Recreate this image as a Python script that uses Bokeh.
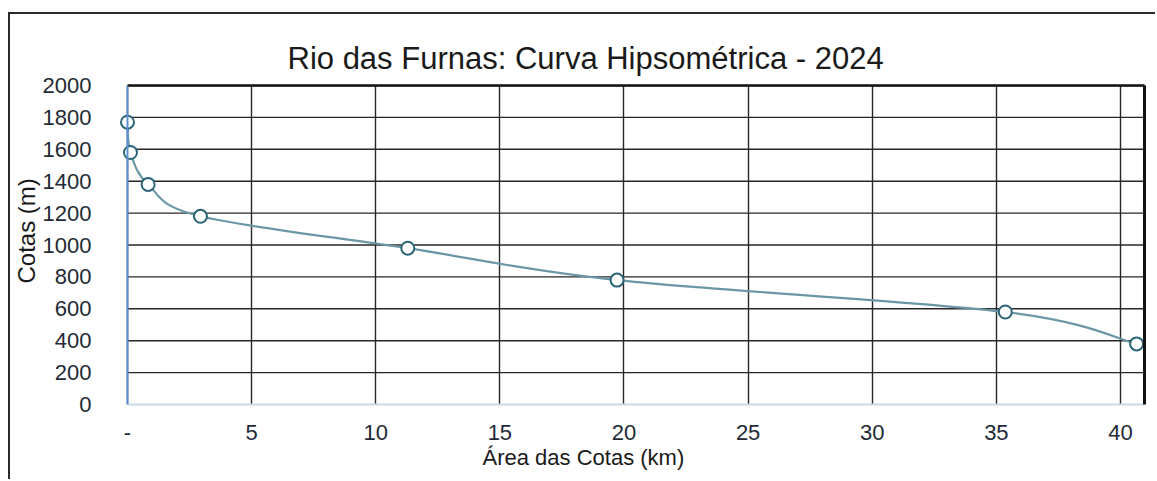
import numpy as np
from bokeh.plotting import figure
from bokeh.models import (ColumnDataSource, Range1d, FixedTicker, LinearAxis,
                          Span, Title)
from bokeh.embed import file_html
from bokeh.resources import INLINE

# ---- data ----
area_km = [0.0, 0.12, 0.83, 2.94, 11.29, 19.72, 35.36, 40.65]
cota_m = [1770, 1580, 1380, 1180, 980, 780, 580, 380]

x_ticks = [0, 5, 10, 15, 20, 25, 30, 35, 40]
x_tick_labels = ["-", "5", "10", "15", "20", "25", "30", "35", "40"]
y_ticks = [0, 200, 400, 600, 800, 1000, 1200, 1400, 1600, 1800, 2000]

title_text = "Rio das Furnas: Curva Hipsométrica - 2024"
x_label = "Área das Cotas (km)"
y_label = "Cotas (m)"

X_MAX = 40.967
FONT = "Liberation Sans"

W, H = 1147, 467
p = figure(width=W, height=H,
           x_range=Range1d(-0.3223, X_MAX), y_range=Range1d(0, 2000),
           output_backend="svg", toolbar_location=None,
           min_border_left=109, min_border_right=13,
           min_border_top=71, min_border_bottom=77,
           background_fill_color="white", border_fill_color="white",
           outline_line_color=None)
p.styles = {"border-left": "2px solid #2b2b2b", "border-top": "2px solid #2b2b2b",
            "margin-top": "12px", "margin-left": "8px"}

# x axis
p.xaxis.ticker = FixedTicker(ticks=x_ticks)
p.xaxis.major_label_overrides = {t: l for t, l in zip(x_ticks, x_tick_labels)}
p.xaxis.bounds = (0, X_MAX)
p.xaxis.axis_line_color = "#c9d7e6"
p.xaxis.axis_line_width = 2
p.xaxis.major_tick_line_color = None
p.xaxis.minor_tick_line_color = None
p.xaxis.major_tick_out = 0
p.xaxis.major_tick_in = 0
p.xaxis.major_label_standoff = 20
p.xaxis.major_label_text_font = FONT
p.xaxis.major_label_text_font_size = "22px"
p.xaxis.major_label_text_color = "#1f2a36"

# y axis
p.yaxis.ticker = FixedTicker(ticks=y_ticks)
p.yaxis.axis_line_color = None
p.yaxis.major_tick_line_color = None
p.yaxis.minor_tick_line_color = None
p.yaxis.major_tick_out = 0
p.yaxis.major_tick_in = 0
p.yaxis.major_label_standoff = 28
p.yaxis.major_label_text_font = FONT
p.yaxis.major_label_text_font_size = "22px"
p.yaxis.major_label_text_color = "#1f2a36"

# grids
p.xgrid.grid_line_color = "#262626"
p.xgrid.grid_line_width = 1.4
p.ygrid.grid_line_color = None
hy = [t for t in y_ticks if t > 0]
p.segment(x0=[0] * len(hy), y0=hy, x1=[X_MAX] * len(hy), y1=hy,
          line_color="#262626", line_width=1.4)

# frame top / right lines
top_axis = LinearAxis(ticker=FixedTicker(ticks=[]), bounds=(0, X_MAX),
                      axis_line_color="#111111", axis_line_width=2.5,
                      major_label_text_color=None, major_tick_line_color=None,
                      minor_tick_line_color=None, major_tick_out=0, major_tick_in=0,
                      major_label_standoff=0)
p.add_layout(top_axis, "above")
right_axis = LinearAxis(ticker=FixedTicker(ticks=[]),
                        axis_line_color="#111111", axis_line_width=3,
                        major_label_text_color=None, major_tick_line_color=None,
                        minor_tick_line_color=None, major_tick_out=0, major_tick_in=0,
                        major_label_standoff=0)
p.add_layout(right_axis, "right")

# left axis line at x = 0
p.add_layout(Span(location=0, dimension="height", line_color="#5b8fcf", line_width=2))

# smooth curve (Catmull-Rom style bezier control points from the data)
xa = np.array(area_km, dtype=float)
ya = np.array(cota_m, dtype=float)
xp = np.concatenate([[xa[0]], xa, [xa[-1]]])
yp = np.concatenate([[ya[0]], ya, [ya[-1]]])
n = len(xa)
cx0 = xa[:-1] + (xp[2:n + 1] - xp[0:n - 1]) / 6
cy0 = ya[:-1] + (yp[2:n + 1] - yp[0:n - 1]) / 6
cx1 = xa[1:] - (xp[3:n + 2] - xp[1:n]) / 6
cy1 = ya[1:] - (yp[3:n + 2] - yp[1:n]) / 6
p.bezier(x0=xa[:-1], y0=ya[:-1], x1=xa[1:], y1=ya[1:],
         cx0=cx0, cy0=cy0, cx1=cx1, cy1=cy1,
         line_color="#6a97a7", line_width=2.2)

src = ColumnDataSource(dict(x=area_km, y=cota_m))
p.scatter("x", "y", source=src, size=13, fill_color="white",
          line_color="#2a6478", line_width=2)

# texts
p.title.text = title_text
p.title.align = "left"
p.title.offset = 168
p.title.vertical_align = "middle"
p.title.text_font = FONT
p.title.text_font_size = "31px"
p.title.text_font_style = "normal"
p.title.text_color = "#1a1a1a"
p.title.standoff = 18

p.add_layout(Title(text=x_label, align="left", offset=363,
                   text_font=FONT, text_font_size="22px", text_font_style="normal",
                   text_color="#1a1a1a", standoff=0), "below")
p.add_layout(Title(text=y_label, align="left", offset=121,
                   text_font=FONT, text_font_size="24px", text_font_style="normal",
                   text_color="#1a1a1a", standoff=0), "left")

open("out.html", "w").write(file_html(p, INLINE))
